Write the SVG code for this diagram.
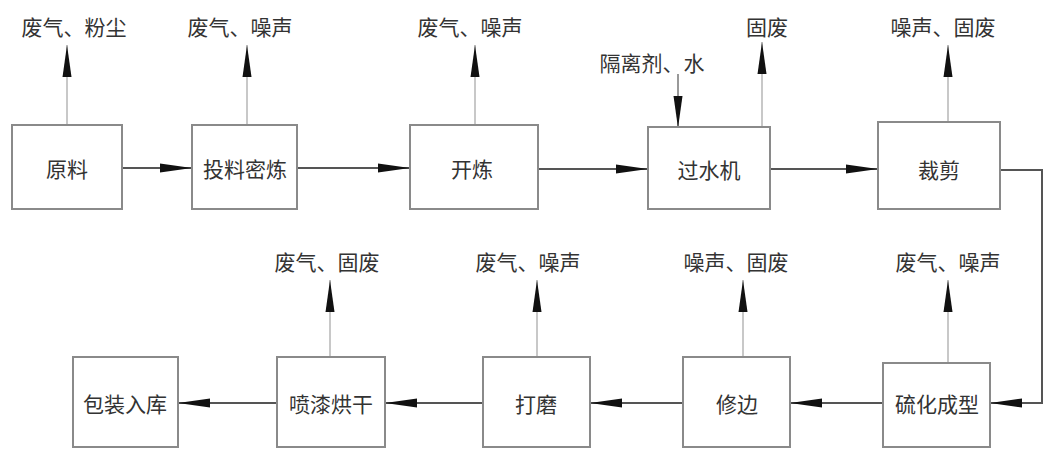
<svg xmlns="http://www.w3.org/2000/svg" width="1056" height="457" viewBox="0 0 1056 457">
<style>
.box{fill:#fff;stroke:#8a8a8a;stroke-width:2}
.t{font-family:"Noto Sans CJK SC","Liberation Sans",sans-serif;font-size:21px;fill:#333;text-anchor:middle;dominant-baseline:central}
.flow{fill:none;stroke:#555;stroke-width:2}
.out{fill:none;stroke:#c8c8c8;stroke-width:2}
.inp{fill:none;stroke:#777;stroke-width:1.5}
</style>
<defs>
<marker id="ah" viewBox="0 0 32 10" refX="32" refY="5" markerWidth="32" markerHeight="10" markerUnits="userSpaceOnUse" orient="auto">
<path d="M0,0.5 L32,5 L0,9.5 Z" fill="#111"/>
</marker>
</defs>
<rect width="1056" height="457" fill="#fff"/>
<g id="connectors">
<line class="flow" x1="122" y1="168" x2="192" y2="168" marker-end="url(#ah)"/>
<line class="flow" x1="297" y1="168" x2="410" y2="168" marker-end="url(#ah)"/>
<line class="flow" x1="538" y1="169" x2="648" y2="169" marker-end="url(#ah)"/>
<line class="flow" x1="770" y1="169" x2="878" y2="169" marker-end="url(#ah)"/>
<polyline class="flow" points="1000,170 1042,170 1042,403 990,403" marker-end="url(#ah)"/>
<line class="flow" x1="883" y1="403" x2="790" y2="403" marker-end="url(#ah)" stroke="#bbb"/>
<line class="flow" x1="683" y1="403" x2="590" y2="403" marker-end="url(#ah)" stroke="#bbb"/>
<line class="flow" x1="483" y1="403" x2="385" y2="403" marker-end="url(#ah)" stroke="#bbb"/>
<line class="flow" x1="277" y1="403" x2="178" y2="403" marker-end="url(#ah)" stroke="#bbb"/>
<line class="out" x1="67" y1="125" x2="67" y2="45" marker-end="url(#ah)"/>
<line class="out" x1="247" y1="125" x2="247" y2="45" marker-end="url(#ah)"/>
<line class="out" x1="475" y1="125" x2="475" y2="45" marker-end="url(#ah)"/>
<line class="out" x1="762" y1="127" x2="762" y2="42" marker-end="url(#ah)"/>
<line class="out" x1="948" y1="122" x2="948" y2="45" marker-end="url(#ah)"/>
<line class="inp" x1="678" y1="74" x2="678" y2="128" marker-end="url(#ah)"/>
<line class="out" x1="330" y1="357" x2="330" y2="280" marker-end="url(#ah)"/>
<line class="out" x1="537" y1="357" x2="537" y2="280" marker-end="url(#ah)"/>
<line class="out" x1="743" y1="357" x2="743" y2="280" marker-end="url(#ah)"/>
<line class="out" x1="948" y1="363" x2="948" y2="280" marker-end="url(#ah)"/>
</g>
<g id="n-yuanliao"><rect class="box" x="12" y="125" width="110" height="84"/><text class="t" x="67" y="168">原料</text></g>
<g id="n-mixing"><rect class="box" x="192" y="125" width="105" height="84"/><text class="t" x="245" y="168">投料密炼</text></g>
<g id="n-kailian"><rect class="box" x="410" y="125" width="128" height="84"/><text class="t" x="472" y="168">开炼</text></g>
<g id="n-guoshui"><rect class="box" x="648" y="127" width="122" height="82"/><text class="t" x="709" y="169">过水机</text></g>
<g id="n-caijian"><rect class="box" x="878" y="122" width="122" height="87"/><text class="t" x="939" y="169">裁剪</text></g>
<g id="n-liuhua"><rect class="box" x="883" y="363" width="107" height="84"/><text class="t" x="937" y="403">硫化成型</text></g>
<g id="n-xiubian"><rect class="box" x="683" y="357" width="107" height="90"/><text class="t" x="737" y="403">修边</text></g>
<g id="n-damo"><rect class="box" x="483" y="357" width="107" height="90"/><text class="t" x="536" y="403">打磨</text></g>
<g id="n-penqi"><rect class="box" x="277" y="357" width="108" height="90"/><text class="t" x="331" y="403">喷漆烘干</text></g>
<g id="n-baozhuang"><rect class="box" x="73" y="357" width="105" height="90"/><text class="t" x="125" y="403">包装入库</text></g>
<g id="labels">
<text class="t" x="74" y="26">废气、粉尘</text>
<text class="t" x="240" y="26">废气、噪声</text>
<text class="t" x="470" y="26">废气、噪声</text>
<text class="t" x="652" y="62">隔离剂、水</text>
<text class="t" x="767" y="26">固废</text>
<text class="t" x="943" y="26">噪声、固废</text>
<text class="t" x="327" y="261">废气、固废</text>
<text class="t" x="528" y="261">废气、噪声</text>
<text class="t" x="736" y="261">噪声、固废</text>
<text class="t" x="948" y="261">废气、噪声</text>
</g>
</svg>
